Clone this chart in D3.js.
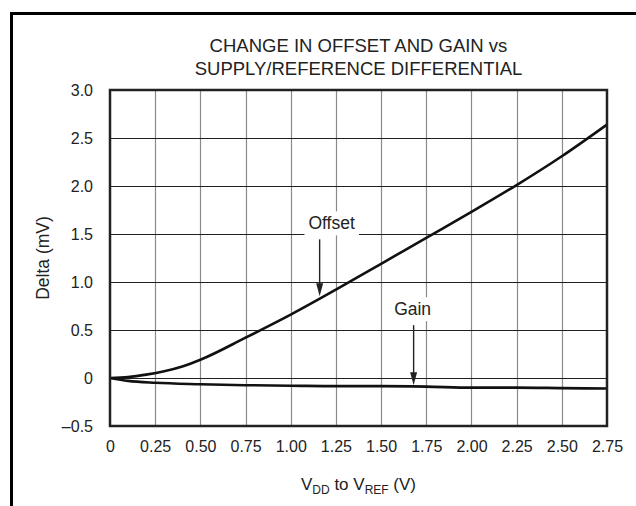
<!DOCTYPE html>
<html>
<head>
<meta charset="utf-8">
<script src="https://cdn.jsdelivr.net/npm/d3@7"></script>
<style>
	body { margin: 0; background: #fff; }
	svg { display: block; font-family: "Liberation Sans", Arial, Helvetica, sans-serif; }
</style>
</head>
<body>
<div class="container"></div>
<script>
// chart values
var titleLines = ["CHANGE IN OFFSET AND GAIN vs", "SUPPLY/REFERENCE DIFFERENTIAL"];
var xTicks = [0, 0.25, 0.5, 0.75, 1.0, 1.25, 1.5, 1.75, 2.0, 2.25, 2.5, 2.75];
var xTickLabels = ["0", "0.25", "0.50", "0.75", "1.00", "1.25", "1.50", "1.75", "2.00", "2.25", "2.50", "2.75"];
var yTicks = [-0.5, 0, 0.5, 1.0, 1.5, 2.0, 2.5, 3.0];
var yTickLabels = ["\u20130.5", "0", "0.5", "1.0", "1.5", "2.0", "2.5", "3.0"];

var offsetX = [0, 0.1, 0.2, 0.3, 0.4, 0.5, 0.75, 1.0, 1.25, 1.5, 1.75, 2.0, 2.25, 2.5, 2.75];
var offsetY = [0, 0.01, 0.035, 0.07, 0.12, 0.19, 0.42, 0.66, 0.92, 1.19, 1.46, 1.73, 2.01, 2.31, 2.64];
var gainX = [0, 0.1, 0.25, 0.5, 0.75, 1.0, 1.25, 1.5, 1.75, 2.0, 2.25, 2.5, 2.75];
var gainY = [0, -0.03, -0.05, -0.065, -0.075, -0.08, -0.085, -0.085, -0.09, -0.1, -0.1, -0.105, -0.11];

// annotation labels: text, x and y of the arrow tip (data units)
var notes = [
	{text: "Offset", x: 1.16, y: 0.84},
	{text: "Gain", x: 1.68, y: -0.085}
];

var width = 636, height = 506;
var plot = {left: 110, right: 607, top: 90, bottom: 426};

var svg = d3.select('.container').append("svg")
	.attr("width", width)
	.attr("height", height);

var x = d3.scaleLinear().domain([0, 2.75]).range([plot.left, plot.right]);
var y = d3.scaleLinear().domain([-0.5, 3.0]).range([plot.bottom, plot.top]);

// page frame (top and left edges only)
svg.append("line")
	.attr("x1", 10).attr("x2", width).attr("y1", 13.5).attr("y2", 13.5)
	.style("stroke", "#000").style("stroke-width", 3);
svg.append("line")
	.attr("x1", 11.5).attr("x2", 11.5).attr("y1", 12).attr("y2", height)
	.style("stroke", "#000").style("stroke-width", 3);

// title
svg.append("g").selectAll("text")
	.data(titleLines)
	.enter().append("text")
		.attr("x", (plot.left + plot.right) / 2)
		.attr("y", function (d, i) { return 51.5 + i * 23; })
		.attr("text-anchor", "middle")
		.style("font-size", "18.5px")
		.style("fill", "#222")
		.text(function (d) { return d; });

// grid
var grid = svg.append("g");
grid.selectAll("line.v")
	.data(xTicks.slice(1, -1))
	.enter().append("line")
		.attr("class", "v")
		.attr("x1", function (d) { return Math.round(x(d)) + 0.5; })
		.attr("x2", function (d) { return Math.round(x(d)) + 0.5; })
		.attr("y1", plot.top).attr("y2", plot.bottom)
		.style("stroke", "#8a8a8a").style("stroke-width", 1.2);
grid.selectAll("line.h")
	.data(yTicks.slice(1, -1))
	.enter().append("line")
		.attr("class", "h")
		.attr("x1", plot.left).attr("x2", plot.right)
		.attr("y1", function (d) { return Math.round(y(d)) + 0.5; })
		.attr("y2", function (d) { return Math.round(y(d)) + 0.5; })
		.style("stroke", "#222").style("stroke-width", 1.1);

// axes labels via d3 axes, lines hidden
var xAxis = svg.append("g")
	.attr("transform", "translate(0," + plot.bottom + ")")
	.call(d3.axisBottom(x).tickValues(xTicks).tickSize(0).tickPadding(15)
		.tickFormat(function (d, i) { return xTickLabels[i]; }));
var yAxis = svg.append("g")
	.attr("transform", "translate(" + plot.left + ",0)")
	.call(d3.axisLeft(y).tickValues(yTicks).tickSize(0).tickPadding(17)
		.tickFormat(function (d, i) { return yTickLabels[i]; }));
[xAxis, yAxis].forEach(function (a) {
	a.select(".domain").remove();
	a.selectAll("text")
		.style("font-family", "\"Liberation Sans\", Arial, sans-serif")
		.style("font-size", "16px")
		.style("fill", "#222");
});

// axis titles
svg.append("text")
	.attr("transform", "translate(49," + ((plot.top + plot.bottom) / 2) + ") rotate(-90)")
	.attr("text-anchor", "middle")
	.style("font-size", "17.5px")
	.style("fill", "#222")
	.text("Delta (mV)");

var xt = svg.append("text")
	.attr("x", (plot.left + plot.right) / 2)
	.attr("y", 490)
	.attr("text-anchor", "middle")
	.style("font-size", "17px")
	.style("fill", "#222");
xt.append("tspan").text("V");
xt.append("tspan").attr("dy", 4).style("font-size", "12px").text("DD");
xt.append("tspan").attr("dy", -4).text(" to V");
xt.append("tspan").attr("dy", 4).style("font-size", "12px").text("REF");
xt.append("tspan").attr("dy", -4).text(" (V)");

// curves
var line = d3.line()
	.x(function (d) { return x(d[0]); })
	.y(function (d) { return y(d[1]); })
	.curve(d3.curveMonotoneX);

svg.append("path")
	.datum(d3.zip(offsetX, offsetY))
	.attr("d", line)
	.style("fill", "none").style("stroke", "#111").style("stroke-width", 2.6);
svg.append("path")
	.datum(d3.zip(gainX, gainY))
	.attr("d", line)
	.style("fill", "none").style("stroke", "#111").style("stroke-width", 2.6);

// plot frame
svg.append("rect")
	.attr("x", plot.left).attr("y", plot.top)
	.attr("width", plot.right - plot.left).attr("height", plot.bottom - plot.top)
	.style("fill", "none").style("stroke", "#222").style("stroke-width", 2.5);

// annotations: label with white box and a down arrow to the curve
var arrowLen = [58, 61];
var ann = svg.append("g").selectAll("g")
	.data(notes)
	.enter().append("g");

ann.each(function (d, i) {
	var g = d3.select(this);
	var tx = x(d.x), ty = y(d.y);
	var top = ty - arrowLen[i];
	var t = g.append("text")
		.attr("x", tx + (i === 0 ? 12 : -1))
		.attr("y", top - 10)
		.attr("text-anchor", "middle")
		.style("font-size", "17.5px")
		.style("fill", "#222")
		.text(d.text);
	var bb = t.node().getBBox();
	g.insert("rect", "text")
		.attr("x", bb.x - 4).attr("y", bb.y - 2)
		.attr("width", bb.width + 8).attr("height", bb.height + 4)
		.style("fill", "#fff");
	g.append("line")
		.attr("x1", tx).attr("x2", tx)
		.attr("y1", top).attr("y2", ty - 10)
		.style("stroke", "#222").style("stroke-width", 1.4);
	g.append("path")
		.attr("d", "M" + (tx - 3.5) + "," + (ty - 14) + "L" + (tx + 3.5) + "," + (ty - 14) + "L" + tx + "," + (ty - 1) + "Z")
		.style("fill", "#222");
});
</script>
</body>
</html>
